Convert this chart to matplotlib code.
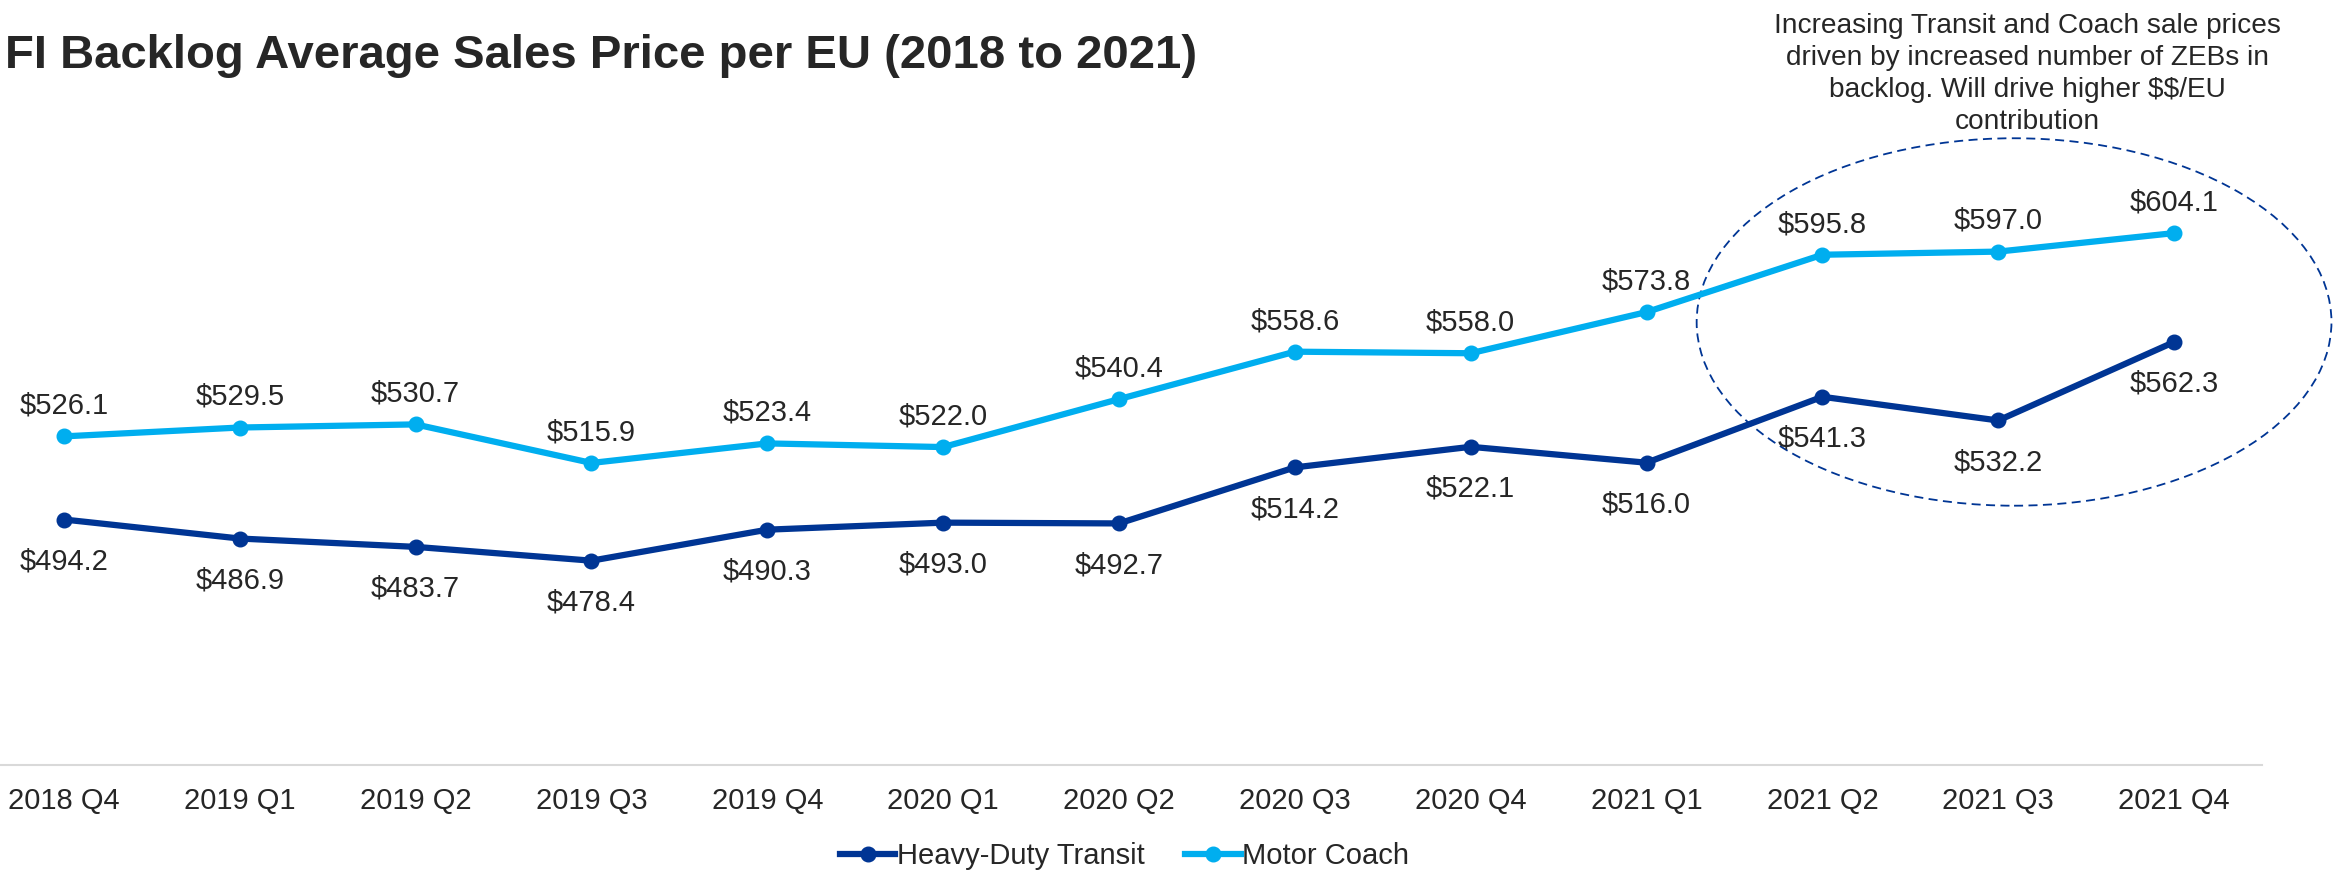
import matplotlib
matplotlib.use("Agg")
import matplotlib.pyplot as plt
from matplotlib.patches import Ellipse
from matplotlib.lines import Line2D

categories = ["2018 Q4", "2019 Q1", "2019 Q2", "2019 Q3", "2019 Q4", "2020 Q1", "2020 Q2",
              "2020 Q3", "2020 Q4", "2021 Q1", "2021 Q2", "2021 Q3", "2021 Q4"]
transit = [494.2, 486.9, 483.7, 478.4, 490.3, 493.0, 492.7, 514.2, 522.1, 516.0, 541.3, 532.2, 562.3]
coach = [526.1, 529.5, 530.7, 515.9, 523.4, 522.0, 540.4, 558.6, 558.0, 573.8, 595.8, 597.0, 604.1]
series_names = ["Heavy-Duty Transit", "Motor Coach"]
title = "FI Backlog Average Sales Price per EU (2018 to 2021)"
note = "Increasing Transit and Coach sale prices\ndriven by increased number of ZEBs in\nbacklog. Will drive higher $$/EU\ncontribution"

DARK = "#003594"
LIGHT = "#00AEEF"
TXT = "#262626"

plt.rcParams['font.family'] = ['Liberation Sans', 'DejaVu Sans']
plt.rcParams['text.parse_math'] = False

W, H = 2338, 871
fig = plt.figure(figsize=(W / 100, H / 100), dpi=100)
ax = fig.add_axes([-24 / W, 0.1217, 2286 / W, 0.748])

x = list(range(len(categories)))
ax.plot(x, coach, color=LIGHT, lw=4.5, marker='o', ms=10.5, zorder=3)
ax.plot(x, transit, color=DARK, lw=4.5, marker='o', ms=10.5, zorder=3)

for i, v in enumerate(coach):
    ax.annotate(f"${v:.1f}", (i, v), xytext=(0, 12), textcoords='offset points',
                ha='center', va='bottom', fontsize=21, color=TXT)
for i, v in enumerate(transit):
    ax.annotate(f"${v:.1f}", (i, v), xytext=(0, -20), textcoords='offset points',
                ha='center', va='top', fontsize=21, color=TXT)

ax.set_xlim(-0.5, len(categories) - 0.5)
ax.set_ylim(400, 650)
ax.set_xticks(x)
ax.set_xticklabels(categories, fontsize=21, color=TXT)
ax.tick_params(axis='x', length=0, pad=16)
ax.set_yticks([])
for s in ['top', 'right', 'left']:
    ax.spines[s].set_visible(False)
ax.spines['bottom'].set_color('#D9D9D9')
ax.spines['bottom'].set_linewidth(1.5)

ell = Ellipse((11.09, 570), width=3.61, height=141, fill=False, edgecolor=DARK,
              linestyle=(0, (5, 3)), lw=1.3, clip_on=False, zorder=2)
ax.add_patch(ell)

fig.text(0.002, 0.936, title, fontsize=34, fontweight='bold', color=TXT, ha='left', va='center')
fig.text(0.867, 0.985, note, fontsize=20.2, color=TXT, ha='center', va='top', linespacing=1.3)

handles = [Line2D([], [], color=DARK, lw=4.5, marker='o', ms=10.5),
           Line2D([], [], color=LIGHT, lw=4.5, marker='o', ms=10.5)]
fig.legend(handles, series_names, loc='center', bbox_to_anchor=(0.481, 0.017), ncol=2,
           frameon=False, fontsize=21, handlelength=1.9, handletextpad=0.05, columnspacing=1.4,
           labelcolor=TXT)

fig.savefig("out.png", dpi=100)
